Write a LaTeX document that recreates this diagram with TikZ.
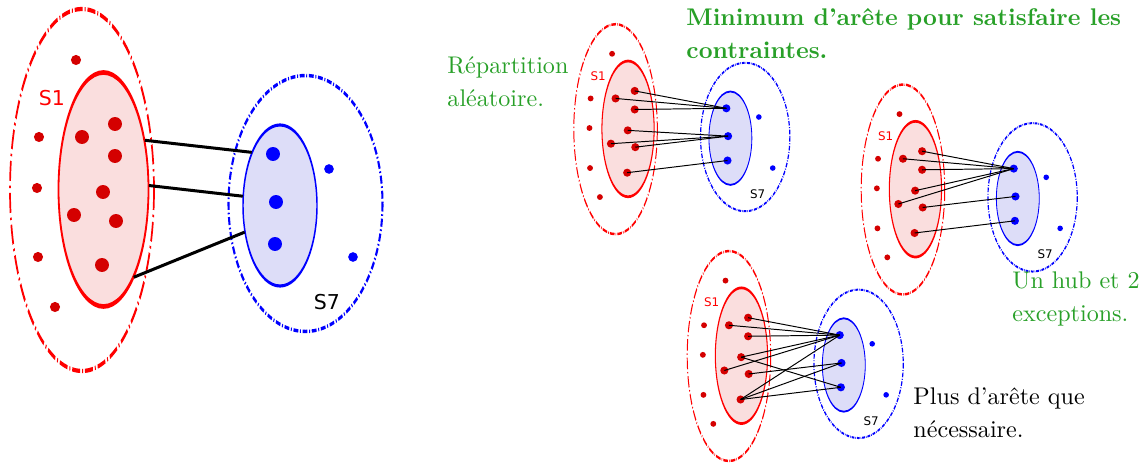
\documentclass[tikz,border=0pt]{standalone}
\usepackage{fontspec}
\usepackage{tikz}
\usetikzlibrary{shapes.geometric}
\newfontfamily\setsfont{DejaVu Sans}
\definecolor{setred}{RGB}{255,0,0}
\definecolor{dotred}{RGB}{212,0,0}
\definecolor{fillred}{RGB}{250,222,222}
\definecolor{fillblue}{RGB}{221,221,248}
\definecolor{notegreen}{RGB}{40,160,40}

% one copy of the two sets S1 / S7, in the px frame of the big copy
\newcommand{\setpair}[1]{%
    \begin{scope}[transform canvas={shift={(82,190)}, yscale=2.514}]
        \draw[outerred] (0,0) circle (72);
    \end{scope}
    \begin{scope}[transform canvas={shift={(305.5,203.5)}, yscale=1.662}]
        \draw[outerblue] (0,0) circle (77);
    \end{scope}
    \begin{scope}[transform canvas={shift={(103.5,189.5)}, yscale=2.6}]
        \draw[innerred] (0,0) circle (45);
    \end{scope}
    \begin{scope}[transform canvas={shift={(280,205.5)}, yscale=2.176}]
        \draw[innerblue] (0,0) circle (37);
    \end{scope}
    \node[setzone, minimum width=37.35pt, minimum height=97.1pt] (#1-s1) at (103.5,189.5) {};
    \node[setzone, minimum width=30.7pt, minimum height=66.8pt] (#1-s7) at (280,205.5) {};
    \node[setlabel, text=setred] (#1-l1) at (52,98) {S1};
    \node[setlabel] (#1-l7) at (327,302) {S7};
    \foreach \n/\x/\y in {1/82/137, 2/115/124, 3/115/156, 4/103/192, 5/74/215, 6/116/221, 7/102/265}
        \node[reddot] (#1-r\n) at (\x,\y) {};
    \foreach \n/\x/\y in {1/76/60, 2/39/137, 3/37/188, 4/38/257, 5/55/307}
        \node[redpt] (#1-o\n) at (\x,\y) {};
    \foreach \n/\x/\y in {1/273/154, 2/276/202, 3/275/244}
        \node[bluedot] (#1-b\n) at (\x,\y) {};
    \foreach \n/\x/\y in {1/329/169, 2/353/257}
        \node[bluept] (#1-p\n) at (\x,\y) {};
}

\begin{document}
\begin{tikzpicture}[x=0.415pt, y=-0.415pt]
    \tikzset{
        outerred/.style={draw=setred, line width=0.7pt,
            dash pattern=on 3.3pt off 0.8pt on 0.4pt off 0.8pt},
        outerblue/.style={draw=blue, line width=0.85pt,
            dash pattern=on 2pt off 0.7pt on 0.4pt off 0.7pt},
        innerred/.style={draw=setred, fill=fillred, line width=0.75pt},
        innerblue/.style={draw=blue, fill=fillblue, line width=0.6pt},
        setzone/.style={shape=ellipse, inner sep=0pt},
        setlabel/.style={inner sep=0pt, font=\setsfont\fontsize{8.5}{10}\selectfont},
        reddot/.style={circle, fill=dotred, inner sep=0pt, minimum size=5.8pt},
        redpt/.style={circle, fill=dotred, inner sep=0pt, minimum size=4.2pt},
        bluedot/.style={circle, fill=blue, inner sep=0pt, minimum size=5.8pt},
        bluept/.style={circle, fill=blue, inner sep=0pt, minimum size=4pt},
        link/.style={draw=black, line width=1.25pt},
        thinlink/.style={draw=black, line width=0.7pt},
        note/.style={anchor=base west, align=left, inner sep=0pt},
    }
    \useasboundingbox (0,0) rectangle (1145,463);

    % ==== Big pair ====
    \setpair{big}
    \draw[link] (big-s1.50) -- (big-s7.118);
    \draw[link] (big-s1.5) -- (big-s7.166);
    \draw[link] (big-s1.-71) -- (big-s7.217);

    % ==== Random split ====
    \begin{scope}[transform canvas={shift={(568,19)}, scale=0.58}]
        \setpair{alea}
        \foreach \r/\b in {1/1, 2/1, 3/1, 4/2, 5/2, 6/2, 7/3}
            \draw[thinlink] (alea-r\r.center) -- (alea-b\b.center);
    \end{scope}

    % ==== One hub ====
    \begin{scope}[transform canvas={shift={(855.4,79.3)}, scale=0.58}]
        \setpair{hub}
        \foreach \r/\b in {1/1, 2/1, 3/1, 4/1, 5/1, 6/2, 7/3}
            \draw[thinlink] (hub-r\r.center) -- (hub-b\b.center);
    \end{scope}

    % ==== Too many edges ====
    \begin{scope}[transform canvas={shift={(681.4,245.8)}, scale=0.58}]
        \setpair{plus}
        \foreach \r/\b in {1/1, 2/1, 3/1, 4/1, 4/3, 5/1, 6/2, 7/1, 7/2, 7/3}
            \draw[thinlink] (plus-r\r.center) -- (plus-b\b.center);
    \end{scope}

    % ==== Captions (anchored on the last line) ====
    \node[note, text=notegreen] (alea-txt) at (447,106.5) {Répartition\\[1.7pt]aléatoire.};
    \node[note, text=notegreen, font=\bfseries] (min-txt) at (686,59)
        {Minimum d'arête pour satisfaire les\\[1.7pt]contraintes.};
    \node[note, text=notegreen] (hub-txt) at (1012,321.5) {Un hub et 2\\[1.7pt]exceptions.};
    \node[note] (plus-txt) at (913,438) {Plus d'arête que\\[1.7pt]nécessaire.};
\end{tikzpicture}
\end{document}
